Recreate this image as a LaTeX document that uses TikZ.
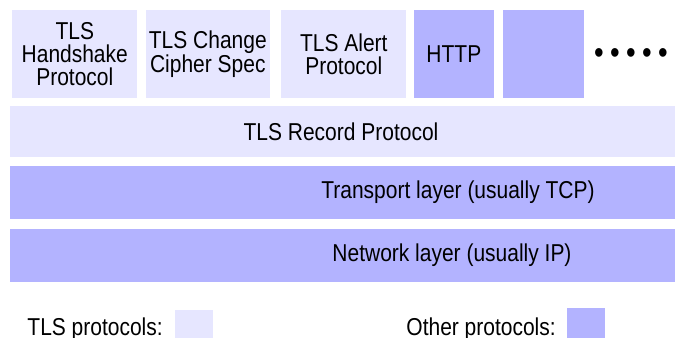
\documentclass[tikz,border=0pt]{standalone}
\usepackage{fontspec}
\setmainfont{Liberation Sans}[FakeStretch=0.86]
\usetikzlibrary{positioning, calc}
\definecolor{TLSBg}  {RGB}{230,230,255}
\definecolor{OtherBg}{RGB}{179,179,255}
\tikzset{
  % Upper protocol boxes
  protobox/.style={
    rectangle, inner sep=0pt,
    minimum height=66pt, align=center,
    font=\fontsize{18.3}{17.5}\selectfont
  },
  % Full-width layer bars
  layerbar/.style={
    rectangle, anchor=north west, inner sep=0pt,
    minimum width=510pt
  },
  % Plain labels
  labeltext/.style={
    inner sep=0pt, font=\fontsize{18.3}{17.5}\selectfont
  },
  % Legend swatch
  swatch/.style={
    rectangle, anchor=north west, inner sep=0pt,
    minimum width=28.5pt, minimum height=27pt
  }
}

\begin{document}
\begin{tikzpicture}[x=0.75pt, y=-0.75pt]
  \useasboundingbox (0,0) rectangle (675,338);

  % ── Protocols on top of the record layer ──────────────────────────────
  \node[protobox, anchor=north west, fill=TLSBg, minimum width=93.75pt] at (12,10) (hs)
        {TLS\\Handshake\\Protocol};
  \node[protobox, fill=TLSBg, minimum width=93pt, right=6pt of hs] (ccs)
        {TLS Change\\Cipher Spec};
  \node[protobox, fill=TLSBg, minimum width=93.75pt, right=8.25pt of ccs] (alert)
        {TLS Alert\\Protocol};
  \node[protobox, fill=OtherBg, minimum width=60pt, right=5.25pt of alert] (http)
        {HTTP};
  \node[protobox, fill=OtherBg, minimum width=60.75pt, right=6.75pt of http] (blank)
        {};
  \node[labeltext, font=\fontsize{24}{24}\selectfont] at (631,56) (more)
        {\makebox[12pt]{•}\makebox[12pt]{•}\makebox[12pt]{•}\makebox[12pt]{•}\makebox[12pt]{•}};

  % ── Layers ─────────────────────────────────────────────────────────────
  \node[layerbar, fill=TLSBg, minimum height=38.25pt] at (10,106) (record) {};
  \node[layerbar, fill=OtherBg, minimum height=39.75pt] at (10,166) (transport) {};
  \node[layerbar, fill=OtherBg, minimum height=39.75pt] at (10,229) (network) {};

  \node[labeltext] at (341,131.5) (record_t) {TLS Record Protocol};
  \node[labeltext] at (458,192.5) (transport_t) {Transport layer (usually TCP)};
  \node[labeltext] at (452,255.5) (network_t) {Network layer (usually IP)};

  % ── Legend ─────────────────────────────────────────────────────────────
  \node[labeltext, anchor=base east] at (163,336) (tls_key) {TLS protocols:};
  \node[swatch, fill=TLSBg] at (175,310) (tls_sw) {};
  \node[labeltext, anchor=base east] at (556,336) (other_key) {Other protocols:};
  \node[swatch, fill=OtherBg] at (567,308) (other_sw) {};

\end{tikzpicture}
\end{document}
